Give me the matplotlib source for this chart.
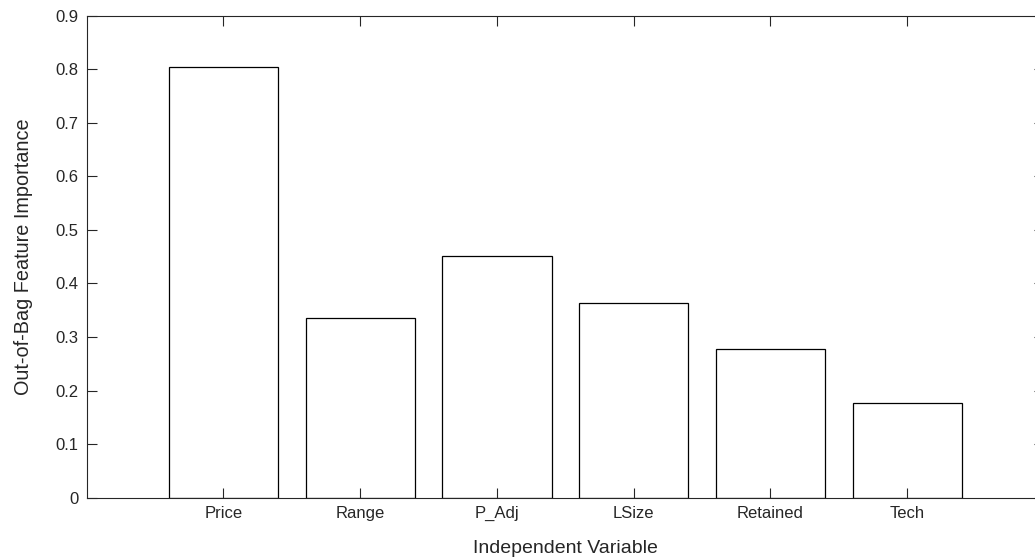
import matplotlib
matplotlib.use("Agg")
import matplotlib.pyplot as plt

categories = ["Price", "Range", "P_Adj", "LSize", "Retained", "Tech"]
importance = [0.805, 0.336, 0.452, 0.363, 0.278, 0.176]
yticks = [0, 0.1, 0.2, 0.3, 0.4, 0.5, 0.6, 0.7, 0.8, 0.9]
ytick_labels = ["0", "0.1", "0.2", "0.3", "0.4", "0.5", "0.6", "0.7", "0.8", "0.9"]

plt.rcParams["font.family"] = ["Liberation Sans", "DejaVu Sans"]
dark = "#262626"

fig = plt.figure(figsize=(10.35, 5.6), dpi=100)
W, H = 1035, 560
left, right, top, bottom = 86.7, 1044.0, 15.7, 497.7
ax = fig.add_axes([left / W, (H - bottom) / H, (right - left) / W, (bottom - top) / H])

positions = list(range(1, len(categories) + 1))
ax.bar(positions, importance, width=0.8, color="white", edgecolor="black", linewidth=0.9)

ax.set_xlim(0, len(categories) + 1)
ax.set_ylim(0, 0.9)
ax.set_xticks(positions)
ax.set_xticklabels(categories)
ax.set_yticks(yticks)
ax.set_yticklabels(ytick_labels)

for s in ax.spines.values():
    s.set_color(dark)
    s.set_linewidth(0.8)

ax.tick_params(direction="in", length=7.2, width=0.8, color=dark, labelcolor=dark,
               labelsize=12, top=True, right=True, pad=6)

ax.set_xlabel("Independent Variable", fontsize=14, color=dark, labelpad=13.5)
ax.set_ylabel("Out-of-Bag Feature Importance", fontsize=14.3, color=dark, labelpad=16)

fig.savefig("out.png", dpi=100)
